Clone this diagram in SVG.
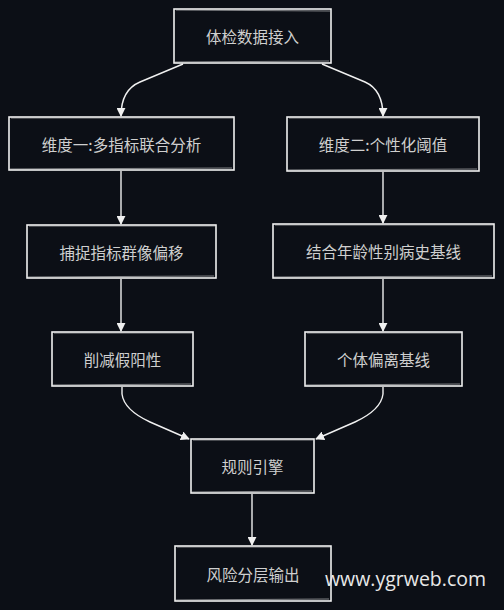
<svg xmlns="http://www.w3.org/2000/svg" width="504" height="610" viewBox="0 0 504 610">
<defs>
<style>
.box{fill:#0c0f16;stroke:#f0f0f0;stroke-width:1.6}
.sk{fill:none;stroke:#e6e6e6;stroke-width:0.8;opacity:0.7}
.lbl{font-family:"Noto Sans CJK SC","Noto Sans",sans-serif;font-size:15.5px;fill:#cfcfcf;text-anchor:middle;dominant-baseline:central}
.edge{fill:none;stroke:#f0f0f0;stroke-width:1.4}
</style>
<marker id="ah" viewBox="0 0 10 10" refX="9" refY="5" markerWidth="9" markerHeight="9" markerUnits="userSpaceOnUse" orient="auto">
<path d="M0,0 L10,5 L0,10 Z" fill="#f0f0f0"/>
</marker>
</defs>
<rect width="504" height="610" fill="#0c0f16"/>
<g id="edges">
<path class="edge" marker-end="url(#ah)" d="M183,64 L140,82 Q121,90 121,116"/>
<path class="edge" marker-end="url(#ah)" d="M322,64 L365,82 Q383,90 383,116"/>
<path class="edge" marker-end="url(#ah)" d="M121,171 L121,224"/>
<path class="edge" marker-end="url(#ah)" d="M383,172 L383,223"/>
<path class="edge" marker-end="url(#ah)" d="M121,279 L121,331"/>
<path class="edge" marker-end="url(#ah)" d="M383,279 L383,331"/>
<path class="edge" marker-end="url(#ah)" d="M122,387 L122,394 Q124,410 150,422 L189,439"/>
<path class="edge" marker-end="url(#ah)" d="M383,387 L383,394 Q381,410 355,422 L316,439"/>
<path class="edge" marker-end="url(#ah)" d="M252,494 L252,545"/>
</g>
<g id="n1"><rect class="box" x="174" y="9" width="157" height="54"/><path class="sk" d="M176,10 L330,11 M175,62 L329,61"/><text class="lbl" x="252.5" y="36">体检数据接入</text></g>
<g id="n2"><rect class="box" x="9" y="117" width="225" height="53"/><path class="sk" d="M11,118 L233,118 M10,169 L232,168"/><text class="lbl" x="121.5" y="143.5">维度一:多指标联合分析</text></g>
<g id="n3"><rect class="box" x="287" y="117" width="192" height="54"/><path class="sk" d="M289,118 L478,118 M288,170 L477,169"/><text class="lbl" x="383" y="144">维度二:个性化阈值</text></g>
<g id="n4"><rect class="box" x="27" y="225" width="189" height="53"/><path class="sk" d="M29,226 L215,226 M28,277 L214,276"/><text class="lbl" x="121.5" y="251.5">捕捉指标群像偏移</text></g>
<g id="n5"><rect class="box" x="273" y="224" width="221" height="54"/><path class="sk" d="M275,225 L493,225 M274,277 L492,276"/><text class="lbl" x="383.5" y="251">结合年龄性别病史基线</text></g>
<g id="n6"><rect class="box" x="52" y="332" width="141" height="54"/><path class="sk" d="M54,333 L192,333 M53,385 L191,384"/><text class="lbl" x="122.5" y="359">削减假阳性</text></g>
<g id="n7"><rect class="box" x="305" y="332" width="157" height="54"/><path class="sk" d="M307,333 L461,333 M306,385 L460,384"/><text class="lbl" x="383.5" y="359">个体偏离基线</text></g>
<g id="n8"><rect class="box" x="191" y="439" width="123" height="54"/><path class="sk" d="M193,440 L313,440 M192,492 L312,491"/><text class="lbl" x="252.5" y="466">规则引擎</text></g>
<g id="n9"><rect class="box" x="175" y="546" width="156" height="55"/><path class="sk" d="M177,547 L330,547 M176,600 L329,599"/><text class="lbl" x="253" y="573.5">风险分层输出</text></g>
<text x="405.5" y="578" font-family="'Open Sans','Noto Sans',sans-serif" font-size="19.5" fill="#e8e8e8" text-anchor="middle" dominant-baseline="central">www.ygrweb.com</text>
</svg>
